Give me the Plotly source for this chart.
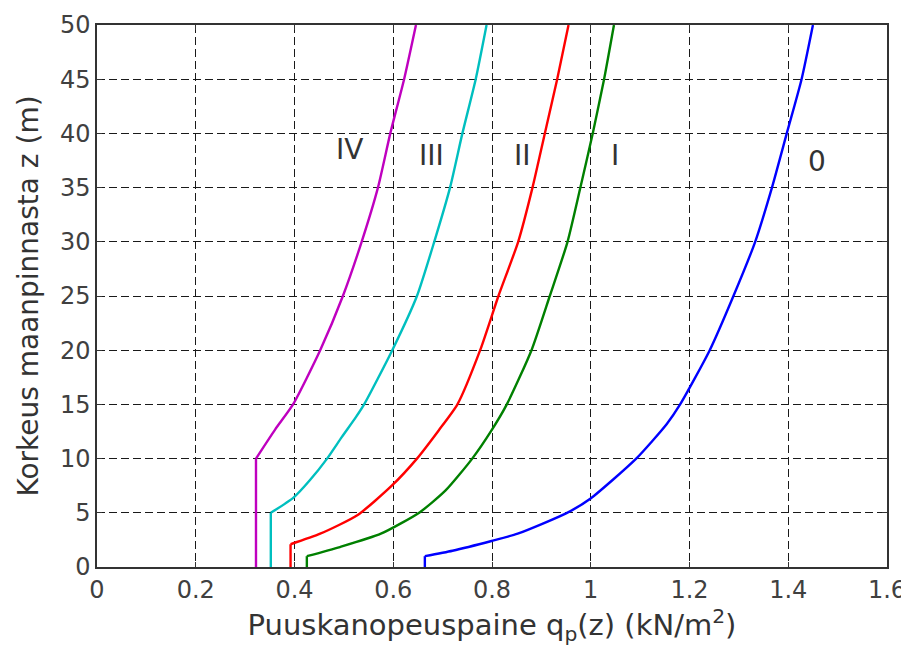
import plotly.graph_objects as go

# Terrain category profiles: height z (m) and peak velocity pressure qp (kN/m2)
z_IV = [0, 10, 12.7, 15, 20, 25, 30, 35, 40, 45, 50]
q_IV = [0.322, 0.322, 0.361, 0.397, 0.452, 0.498, 0.536, 0.569, 0.594, 0.622, 0.646]

z_III = [0, 5, 6.4, 8, 10, 12, 13.8, 15, 20, 25, 30, 35, 40, 45, 50]
q_III = [0.352, 0.352, 0.398, 0.431, 0.466, 0.496, 0.524, 0.541, 0.598, 0.648, 0.683, 0.715, 0.740, 0.767, 0.789]

z_II = [0, 2.1, 3.07, 4.8, 7.5, 10, 12.6, 15, 20, 25, 30, 35, 40, 45, 50]
q_II = [0.392, 0.392, 0.452, 0.528, 0.597, 0.648, 0.692, 0.730, 0.776, 0.813, 0.853, 0.882, 0.907, 0.932, 0.955]

z_I = [0, 1, 1.84, 3.07, 5.06, 7.06, 10, 12.6, 15, 20, 25, 30, 35, 40, 45, 50]
q_I = [0.425, 0.425, 0.492, 0.575, 0.654, 0.706, 0.760, 0.799, 0.830, 0.880, 0.917, 0.953, 0.979, 1.004, 1.027, 1.047]

z_0 = [0, 1, 1.5, 2.4, 3.07, 4.97, 6.3, 10, 13.2, 15, 20, 25, 30, 35, 40, 45, 50]
q_0 = [0.664, 0.664, 0.720, 0.799, 0.852, 0.951, 0.999, 1.092, 1.154, 1.181, 1.241, 1.289, 1.333, 1.367, 1.397, 1.427, 1.450]

series = [
    ("IV", q_IV, z_IV, "#BF00BF"),
    ("III", q_III, z_III, "#00BFBF"),
    ("II", q_II, z_II, "#FF0000"),
    ("I", q_I, z_I, "#008000"),
    ("0", q_0, z_0, "#0000FF"),
]

# Curve labels
label_text = ["IV", "III", "II", "I", "0"]
label_x = [0.512, 0.678, 0.861, 1.049, 1.458]
label_z = [38.5, 38.0, 38.0, 38.0, 37.4]

x_ticks = [0, 0.2, 0.4, 0.6, 0.8, 1, 1.2, 1.4, 1.6]
x_ticktext = ["0", "0.2", "0.4", "0.6", "0.8", "1", "1.2", "1.4", "1.6"]
y_ticks = [0, 5, 10, 15, 20, 25, 30, 35, 40, 45, 50]

FONT = "DejaVu Sans, sans-serif"
TXT = "#333333"

fig = go.Figure()
for name, q, z, col in series:
    # constant part below z_min (first two points), then the smooth profile
    fig.add_trace(go.Scatter(x=q[:2], y=z[:2], mode="lines", name=name,
                             line=dict(color=col, width=2.4), showlegend=False))
    fig.add_trace(go.Scatter(x=q[1:], y=z[1:], mode="lines", name=name,
                             line=dict(color=col, width=2.4, shape="spline", smoothing=0.6),
                             showlegend=False))

for t, x, y in zip(label_text, label_x, label_z):
    fig.add_annotation(x=x, y=y, text=t, showarrow=False,
                       font=dict(family=FONT, size=28, color=TXT))

axis_common = dict(
    showgrid=True, gridcolor="#1a1a1a", gridwidth=1.2, griddash="8px,4px",
    showline=True, linecolor="#333333", linewidth=1.5, mirror="allticks",
    ticks="inside", ticklen=5, tickcolor="#333333", tickwidth=1,
    zeroline=False, automargin=False,
    tickfont=dict(family=FONT, size=24, color="#404040"),
)

fig.update_xaxes(range=[0, 1.6], tickvals=x_ticks, ticktext=x_ticktext,
                 title=dict(text="Puuskanopeuspaine q<sub>p</sub>(z) (kN/m<sup>2</sup>)",
                            font=dict(family=FONT, size=29, color=TXT), standoff=12),
                 **axis_common)
fig.update_yaxes(range=[0, 50], tickvals=y_ticks,
                 title=dict(text="Korkeus maanpinnasta z (m)",
                            font=dict(family=FONT, size=28, color=TXT), standoff=13),
                 **axis_common)

# The page body adds an 8 px margin, so the figure is sized to fit the window
fig.update_layout(
    width=901, height=647,
    margin=dict(l=89, r=22, t=17, b=88),
    plot_bgcolor="white", paper_bgcolor="white",
)

fig.write_html("out.html")
